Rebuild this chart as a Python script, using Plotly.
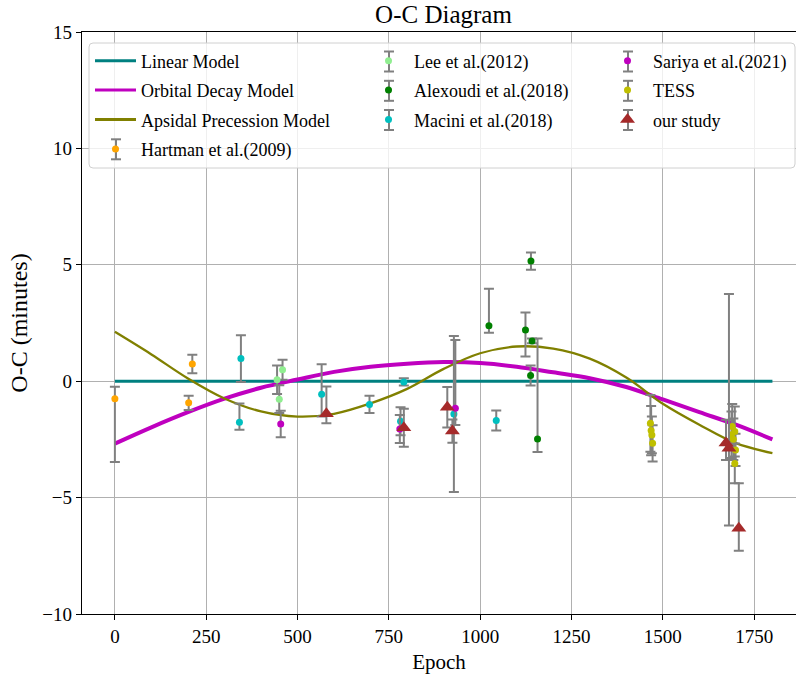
import plotly.graph_objects as go

FONT = "Liberation Serif"

# ---- model curves (O-C in minutes, sampled every 100 epochs) ----
model_epoch = [0, 100, 200, 300, 400, 500, 600, 700, 800, 900,
               1000, 1100, 1200, 1300, 1400, 1500, 1600, 1700, 1800]
orbital_oc = [-2.68, -1.98, -1.33, -0.75, -0.28, 0.07, 0.40, 0.62, 0.75, 0.82,
              0.78, 0.62, 0.38, 0.13, -0.25, -0.78, -1.33, -1.87, -2.50]
apsidal_oc = [2.12, 1.15, 0.12, -0.74, -1.30, -1.52, -1.40, -0.95, -0.33, 0.53,
              1.20, 1.49, 1.40, 0.97, 0.16, -0.97, -1.87, -2.66, -3.09]
linear_epoch = [0, 1800]
linear_oc = [0.0, 0.0]

# ---- timing observations: epoch, O-C, upper / lower error (minutes) ----
hartman_epoch = [0, 202, 212]
hartman_oc = [-0.75, -0.93, 0.74]
hartman_up = [0.51, 0.31, 0.40]
hartman_lo = [2.72, 0.31, 0.40]

lee_epoch = [444, 450, 459]
lee_oc = [0.06, -0.77, 0.49]
lee_up = [0.61, 0.60, 0.43]
lee_lo = [0.61, 0.60, 0.43]

alexoudi_epoch = [1024, 1124, 1138, 1139, 1142, 1157]
alexoudi_oc = [2.38, 2.20, 0.24, 5.16, 1.73, -2.48]
alexoudi_up = [1.59, 0.75, 0.43, 0.37, 0.10, 4.31]
alexoudi_lo = [0.30, 1.14, 0.43, 0.37, 0.10, 0.56]

macini_epoch = [341, 345, 566, 697, 782, 791, 928, 1044]
macini_oc = [-1.76, 0.97, -0.56, -1.00, -1.72, -0.03, -1.41, -1.69]
macini_up = [0.80, 1.00, 1.29, 0.37, 0.60, 0.16, 3.35, 0.43]
macini_lo = [0.33, 1.00, 0.96, 0.37, 0.60, 0.16, 3.35, 0.43]

sariya_epoch = [454, 780, 932]
sariya_oc = [-1.84, -2.05, -1.16]
sariya_up = [0.57, 0.60, 2.93]
sariya_lo = [0.57, 0.60, 0.72]

tess_epoch = [1466, 1468, 1470, 1472, 1690, 1688, 1697, 1693, 1699, 1697]
tess_oc = [-1.81, -2.12, -2.31, -2.67, -1.95, -2.30, -2.16, -2.49, -2.95, -3.53]
tess_err = [1.22, 1.06, 0.79, 0.78, 0.97, 1.00, 1.07, 0.89, 0.69, 0.85]

ours_epoch = [579, 791, 910, 924, 1673, 1681, 1708]
ours_oc = [-1.40, -2.00, -1.12, -2.14, -2.66, -2.88, -6.32]
ours_up = [1.17, 0.82, 0.87, 0.50, 1.00, 6.63, 1.94]
ours_lo = [0.41, 0.82, 0.87, 0.50, 0.72, 3.32, 0.96]

x_ticks = [0, 250, 500, 750, 1000, 1250, 1500, 1750]
y_ticks = [-10, -5, 0, 5, 10, 15]

ERR_COLOR = "#808080"

W, H = 796, 684
ML, MR, MT, MB = 82, 0, 32, 70
PW, PH = W - ML - MR, H - MT - MB


def px_x(p):
    return (p - ML) / PW


def px_y(p):
    return (H - MB - p) / PH


fig = go.Figure()


def model_line(x, y, name, color, width, group):
    fig.add_trace(go.Scatter(
        x=x, y=y, mode="lines", name=name, showlegend=False,
        line=dict(color=color, width=width, shape="spline"), hoverinfo="skip"))
    # legend entry drawn with a uniform line weight
    fig.add_trace(go.Scatter(
        x=[None], y=[None], mode="lines", name=name, legend="legend",
        legendgroup=group, line=dict(color=color, width=3)))


def obs(x, y, up, lo, name, color, legend, group, symbol="circle", size=7):
    fig.add_trace(go.Scatter(
        x=x, y=y, mode="markers", name=name, legend=legend, legendgroup=group,
        marker=dict(color=color, size=size, symbol=symbol, line=dict(width=0)),
        error_y=dict(type="data", array=up, arrayminus=lo, symmetric=False,
                     color=ERR_COLOR, thickness=2, width=5)))


model_line(linear_epoch, linear_oc, "Linear Model", "#008080", 3, "g1")
model_line(model_epoch, orbital_oc, "Orbital Decay Model", "#bf00bf", 4, "g2")
model_line(model_epoch, apsidal_oc, "Apsidal Precession Model", "#808000", 2.3, "g3")
obs(hartman_epoch, hartman_oc, hartman_up, hartman_lo, "Hartman et al.(2009)",
    "#ffa500", "legend", "g4")
obs(lee_epoch, lee_oc, lee_up, lee_lo, "Lee et al.(2012)", "#90ee90", "legend2", "g5")
obs(alexoudi_epoch, alexoudi_oc, alexoudi_up, alexoudi_lo, "Alexoudi et al.(2018)",
    "#008000", "legend2", "g6")
obs(macini_epoch, macini_oc, macini_up, macini_lo, "Macini et al.(2018)",
    "#00bfbf", "legend2", "g7")
obs(sariya_epoch, sariya_oc, sariya_up, sariya_lo, "Sariya et al.(2021)",
    "#bf00bf", "legend3", "g8")
obs(tess_epoch, tess_oc, tess_err, tess_err, "TESS", "#bfbf00", "legend3", "g9")
obs(ours_epoch, ours_oc, ours_up, ours_lo, "our study", "#a52a2a", "legend3", "g10",
    symbol="triangle-up", size=13)

legend_style = dict(font=dict(family=FONT, size=18, color="black"),
                    bgcolor="rgba(0,0,0,0)", borderwidth=0,
                    xanchor="left", yanchor="top", tracegroupgap=3,
                    itemwidth=41)
LEG_TOP = 42.5
LEG_COLS = [90, 363, 602]          # left edge of each legend column (px)
ROW_Y = [61.5, 90.8, 120.0, 149.3]  # legend row centres (px)
SYM_DX = 26                          # symbol centre offset inside a column

# rounded legend frame
fx0, fx1 = px_x(89), px_x(795)
fy0, fy1 = px_y(168), px_y(43)
rx, ry = 4 / PW, 4 / PH
frame_path = (f"M {fx0+rx},{fy1} L {fx1-rx},{fy1} Q {fx1},{fy1} {fx1},{fy1-ry} "
              f"L {fx1},{fy0+ry} Q {fx1},{fy0} {fx1-rx},{fy0} "
              f"L {fx0+rx},{fy0} Q {fx0},{fy0} {fx0},{fy0+ry} "
              f"L {fx0},{fy1-ry} Q {fx0},{fy1} {fx0+rx},{fy1} Z")
shapes = [dict(type="path", path=frame_path, xref="paper", yref="paper",
               fillcolor="rgba(255,255,255,0.8)",
               line=dict(color="#d0d0d0", width=1), layer="above")]

# error-bar glyphs behind the legend markers of the observation series
glyph_slots = [(0, 3), (1, 0), (1, 1), (1, 2), (2, 0), (2, 1), (2, 2)]
for col, row in glyph_slots:
    cx = LEG_COLS[col] + SYM_DX
    cy = ROW_Y[row]
    seg = dict(type="line", xref="paper", yref="paper", layer="above",
               line=dict(color=ERR_COLOR, width=2))
    shapes.append({**seg, "x0": px_x(cx), "x1": px_x(cx),
                   "y0": px_y(cy - 10), "y1": px_y(cy + 10)})
    for dy in (-10, 10):
        shapes.append({**seg, "x0": px_x(cx - 5), "x1": px_x(cx + 5),
                       "y0": px_y(cy + dy), "y1": px_y(cy + dy)})

fig.update_layout(
    width=W, height=H,
    margin=dict(l=ML, r=MR, t=MT, b=MB, pad=0),
    paper_bgcolor="white", plot_bgcolor="white",
    font=dict(family=FONT, size=19, color="black"),
    title=dict(text="O-C Diagram", font=dict(family=FONT, size=25, color="black"),
               x=px_x(443.5), xref="paper", xanchor="center",
               y=1 - 14 / H, yref="container", yanchor="middle"),
    xaxis=dict(range=[-90, -90 + PW / 0.3653], tickvals=x_ticks,
               showgrid=True, gridcolor="#b0b0b0", gridwidth=1,
               zeroline=False, showline=True, linecolor="black", linewidth=1.3,
               mirror=True, ticks="outside", ticklen=5, tickwidth=1.3,
               tickcolor="black", tickfont=dict(family=FONT, size=19),
               title=dict(text="Epoch", font=dict(family=FONT, size=21), standoff=8)),
    yaxis=dict(range=[-10, 15], tickvals=y_ticks,
               showgrid=True, gridcolor="#b0b0b0", gridwidth=1,
               zeroline=False, showline=True, linecolor="black", linewidth=1.3,
               ticks="outside", ticklen=5, tickwidth=1.3, tickcolor="black",
               tickfont=dict(family=FONT, size=19),
               title=dict(text="O-C (minutes)", font=dict(family=FONT, size=24),
                          standoff=7)),
    legend=dict(x=px_x(LEG_COLS[0]), y=px_y(LEG_TOP), **legend_style),
    legend2=dict(x=px_x(LEG_COLS[1]), y=px_y(LEG_TOP), **legend_style),
    legend3=dict(x=px_x(LEG_COLS[2]), y=px_y(LEG_TOP), **legend_style),
    shapes=shapes,
    showlegend=True,
)

fig.write_html("out.html")
